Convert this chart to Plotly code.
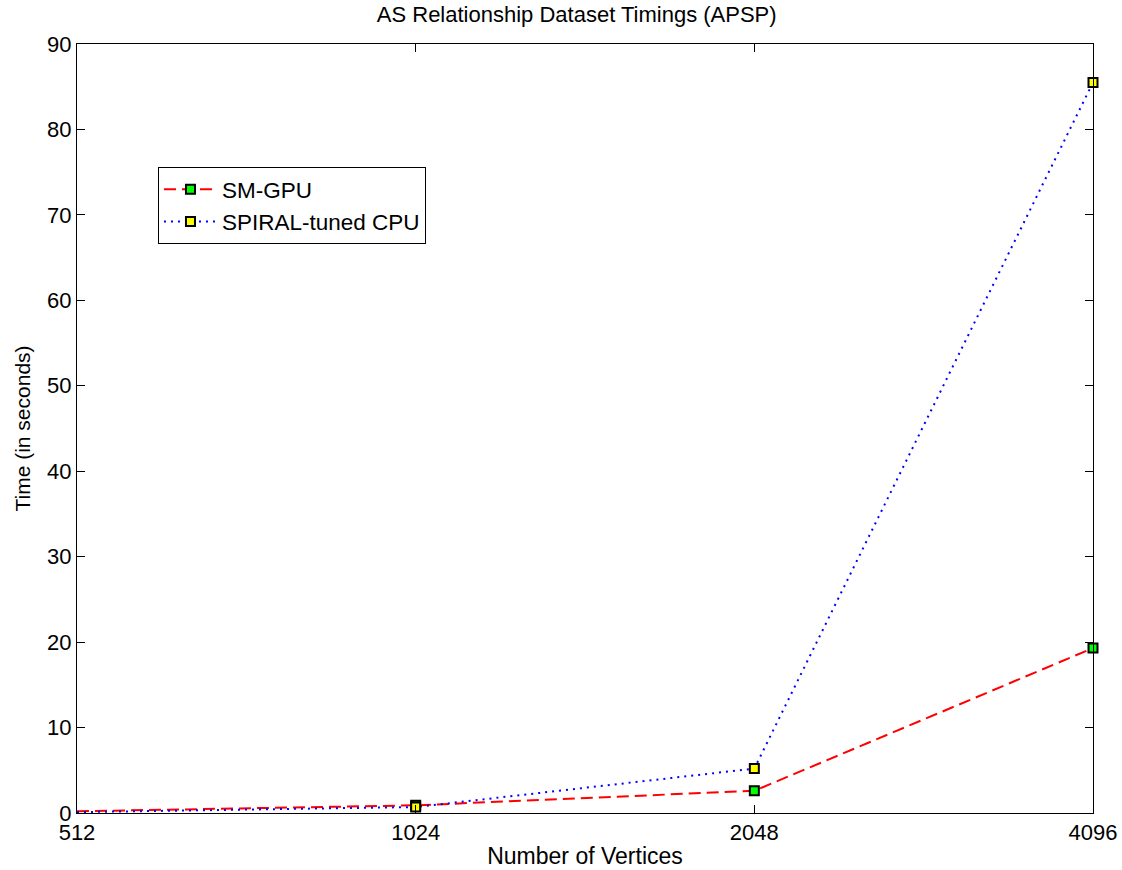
import plotly.graph_objects as go

vertices = [512, 1024, 2048, 4096]
sm_gpu = [0.2, 0.9, 2.6, 19.3]
spiral_cpu = [0.1, 0.7, 5.2, 85.5]
x_ticks = [512, 1024, 2048, 4096]
y_ticks = list(range(0, 91, 10))

fig = go.Figure()
fig.add_trace(go.Scatter(
    x=vertices, y=sm_gpu, name="SM-GPU", mode="lines+markers",
    line=dict(color="red", width=2, dash="12px,6px"),
    marker=dict(symbol="square", size=9, color="#00ff00", line=dict(color="black", width=2)),
    cliponaxis=False))
fig.add_trace(go.Scatter(
    x=vertices, y=spiral_cpu, name="SPIRAL-tuned CPU", mode="lines+markers",
    line=dict(color="blue", width=2, dash="2px,5px"),
    marker=dict(symbol="square", size=9, color="#ffff00", line=dict(color="black", width=2)),
    cliponaxis=False))

font = "Liberation Sans, Arial, sans-serif"
fig.update_layout(
    width=1122, height=870,
    margin=dict(l=77, r=29, t=44, b=57, autoexpand=False),
    paper_bgcolor="white", plot_bgcolor="white",
    font=dict(family=font, size=22, color="black"),
    title=dict(text="AS Relationship Dataset Timings (APSP)", xref="container", x=0.514,
               xanchor="center", yref="container", y=0.992, yanchor="top", font=dict(size=22)),
    showlegend=True,
    legend=dict(x=0.0797, y=0.840, xanchor="left", yanchor="top",
                bordercolor="black", borderwidth=1, bgcolor="white",
                font=dict(size=22.5), itemwidth=53, tracegroupgap=0),
)
fig.update_xaxes(
    type="log", range=[2.70927, 3.61236], tickvals=x_ticks, ticktext=[str(v) for v in x_ticks],
    ticks="inside", ticklen=8, tickcolor="black", showline=True, linecolor="black", linewidth=1,
    mirror="ticks", showgrid=False, zeroline=False, automargin=False,
    title=dict(text="Number of Vertices", standoff=3, font=dict(size=23)))
fig.update_yaxes(
    range=[0, 90], tickvals=y_ticks, ticks="inside", ticklen=8, tickcolor="black",
    showline=True, linecolor="black", linewidth=1, mirror="ticks", showgrid=False, zeroline=False,
    automargin=False,
    title=dict(text="Time (in seconds)", standoff=10, font=dict(size=21)))

fig.write_html(
    "out.html",
    config={"displayModeBar": False},
    post_script="document.body.style.margin='0';document.body.style.overflow='hidden';",
)
